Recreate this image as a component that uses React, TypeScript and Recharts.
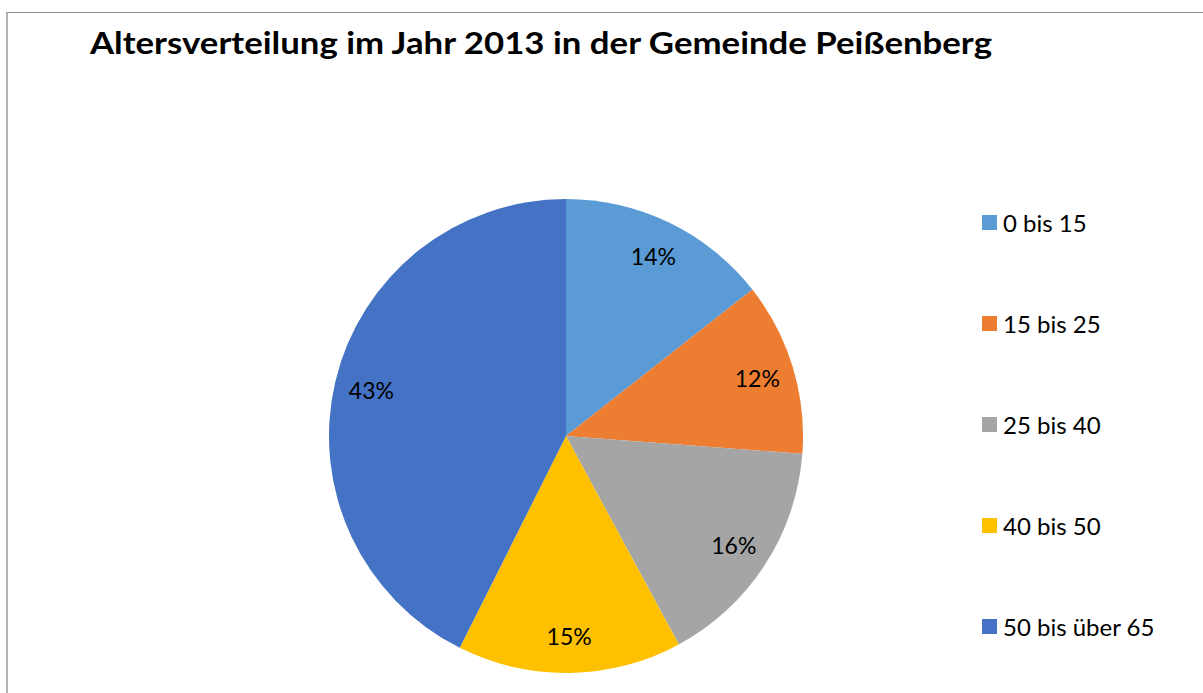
import React from "react";
import { PieChart, Pie, Cell, Legend } from "recharts";

const categories = ["0 bis 15", "15 bis 25", "25 bis 40", "40 bis 50", "50 bis über 65"];
const shares = [14.4, 11.8, 15.9, 15.3, 42.6];
const colors = ["#5B9BD5", "#ED7D31", "#A5A5A5", "#FFC000", "#4472C4"];
const title = "Altersverteilung im Jahr 2013 in der Gemeinde Peißenberg";

const data = categories.map((name, i) => ({ name, value: shares[i] }));

const FONT = "Lato, 'Open Sans', sans-serif";
const RAD = Math.PI / 180;

const renderLabel = (props: any) => {
  const { cx, cy, midAngle, percent } = props;
  const r = 200;
  const x = cx + r * Math.cos(-midAngle * RAD);
  const y = cy + r * Math.sin(-midAngle * RAD);
  return (
    <text
      x={x}
      y={y}
      textAnchor="middle"
      dominantBaseline="central"
      fill="#000"
      fontFamily={FONT}
      fontSize={23}
    >
      {Math.round(percent * 100) + "%"}
    </text>
  );
};

const renderLegend = (props: any) => {
  const { payload } = props;
  return (
    <div>
      {(payload || []).map((entry: any, i: number) => (
        <div
          key={i}
          style={{ height: 101, display: "flex", alignItems: "center" }}
        >
          <div style={{ width: 15, height: 15, background: entry.color, marginRight: 6, flexShrink: 0 }} />
          <span style={{ fontFamily: FONT, fontSize: 24, color: "#000", lineHeight: 1, whiteSpace: "nowrap" }}>
            {entry.value}
          </span>
        </div>
      ))}
    </div>
  );
};

export default function App() {
  return (
    <div style={{ position: "absolute", left: 0, top: 0, width: 1203, height: 693, background: "#fff", overflow: "hidden" }}>
      <div
        style={{
          position: "absolute",
          left: 6,
          top: 12,
          width: 1300,
          height: 800,
          borderTop: "1.5px solid #8c8c8c",
          borderLeft: "2px solid #b3b3b3",
          boxSizing: "border-box",
        }}
      />
      <svg width={1203} height={80} style={{ position: "absolute", left: 0, top: 0 }}>
        <text
          x={90}
          y={54}
          fontFamily={FONT}
          fontWeight={700}
          fontSize={31}
          fill="#000"
          textLength={902}
          lengthAdjust="spacingAndGlyphs"
        >
          {title}
        </text>
      </svg>
      <div style={{ position: "absolute", left: 0, top: 0 }}>
        <PieChart width={1203} height={693} margin={{ top: 0, right: 0, bottom: 0, left: 0 }}>
          <Pie
            data={data}
            dataKey="value"
            nameKey="name"
            cx={566}
            cy={436}
            outerRadius={237}
            startAngle={90}
            endAngle={-270}
            stroke="none"
            label={renderLabel}
            labelLine={false}
            isAnimationActive={false}
          >
            {data.map((d, i) => (
              <Cell key={d.name} fill={colors[i]} />
            ))}
          </Pie>
          <Legend
            content={renderLegend}
            wrapperStyle={{ position: "absolute", left: 982, top: 172, width: 220, height: 505 }}
          />
        </PieChart>
      </div>
    </div>
  );
}
